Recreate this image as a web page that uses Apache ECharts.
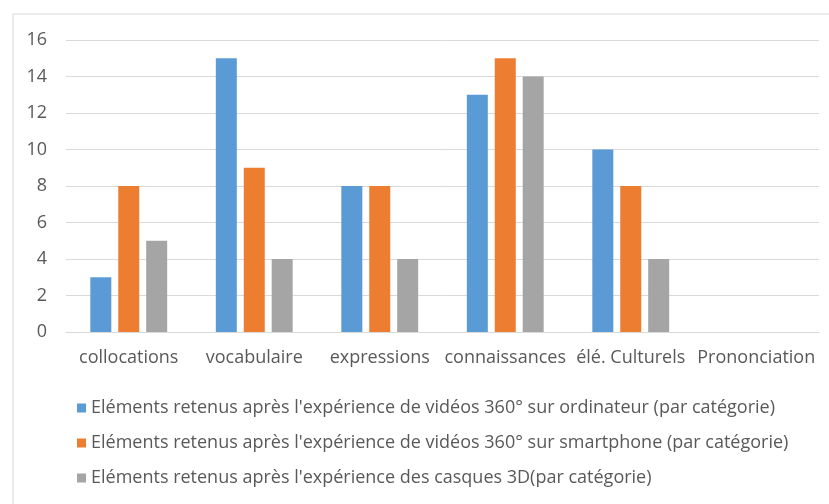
<!DOCTYPE html>
<html>
<head>
<meta charset="UTF-8">
<script src="https://cdn.jsdelivr.net/npm/echarts@6/dist/echarts.min.js"></script>
<style>
  html, body { margin: 0; padding: 0; background: #fff; }
  #main { width: 829px; height: 504px; }
</style>
</head>
<body>
<div id="main"></div>
<script>
var categories = ['collocations', 'vocabulaire', 'expressions', 'connaissances', 'élé. Culturels', 'Prononciation'];
var ordinateur = [3, 15, 8, 13, 10, 0];
var smartphone = [8, 9, 8, 15, 8, 0];
var casques = [5, 4, 4, 14, 4, 0];
var seriesNames = [
  'Eléments retenus après l\'expérience de vidéos 360° sur ordinateur (par catégorie)',
  'Eléments retenus après l\'expérience de vidéos 360° sur smartphone (par catégorie)',
  'Eléments retenus après l\'expérience des casques 3D(par catégorie)'
];
var colors = ['#5B9BD5', '#ED7D31', '#A5A5A5'];

var font = '"Open Sans", "Noto Sans", sans-serif';
var myChart = echarts.init(document.getElementById('main'));

function bar(name, data, color) {
  return {
    name: name,
    type: 'bar',
    data: data,
    barWidth: 21,
    barGap: '33%',
    itemStyle: { color: color },
    emphasis: { disabled: true }
  };
}

myChart.setOption({
  animation: false,
  textStyle: { fontFamily: font },
  graphic: [{
    type: 'rect',
    shape: { x: 13, y: 14, width: 830, height: 500 },
    style: { fill: 'none', stroke: '#D9D9D9', lineWidth: 1 }
  }],
  grid: { left: 66, right: 10, top: 40, bottom: 172 },
  legend: {
    orient: 'vertical',
    left: 72,
    top: 394,
    icon: 'rect',
    itemWidth: 9,
    itemHeight: 9,
    itemGap: 17,
    data: seriesNames,
    textStyle: { color: '#595959', fontSize: 18, fontFamily: font }
  },
  xAxis: {
    type: 'category',
    data: categories,
    axisLine: { lineStyle: { color: '#D9D9D9' } },
    axisTick: { show: false },
    axisLabel: { color: '#595959', fontSize: 18, margin: 17, interval: 0 }
  },
  yAxis: {
    type: 'value',
    min: 0,
    max: 16,
    interval: 2,
    axisLine: { show: false },
    axisTick: { show: false },
    splitLine: { lineStyle: { color: '#D9D9D9' } },
    axisLabel: { color: '#595959', fontSize: 18, margin: 19 }
  },
  series: [
    bar(seriesNames[0], ordinateur, colors[0]),
    bar(seriesNames[1], smartphone, colors[1]),
    bar(seriesNames[2], casques, colors[2])
  ]
});
</script>
</body>
</html>
